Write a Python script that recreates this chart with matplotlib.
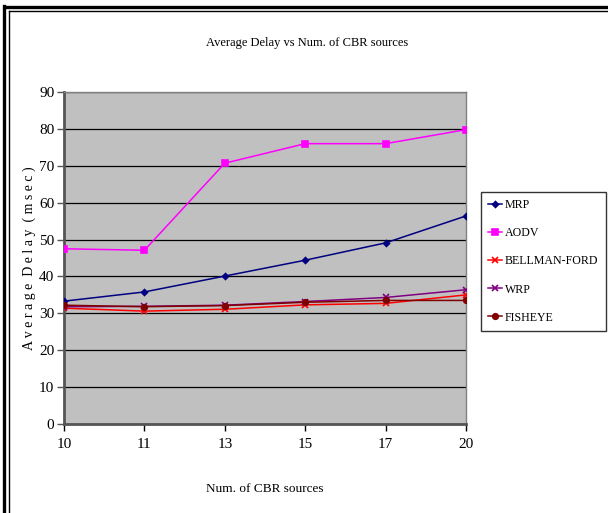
import matplotlib
matplotlib.use("Agg")
import matplotlib.pyplot as plt
from matplotlib.lines import Line2D

categories = ["10", "11", "13", "15", "17", "20"]
mrp = [33.3, 35.8, 40.1, 44.4, 49.1, 56.4]
aodv = [47.5, 47.1, 70.7, 76.0, 76.0, 79.8]
bellman = [31.4, 30.6, 31.1, 32.3, 32.7, 35.0]
wrp = [31.8, 31.9, 32.2, 33.2, 34.3, 36.4]
fisheye = [32.2, 31.8, 32.1, 33.0, 33.5, 33.5]
yticks = [0, 10, 20, 30, 40, 50, 60, 70, 80, 90]

plt.rcParams['font.family'] = ['Liberation Serif', 'DejaVu Serif']

W, H = 608, 513
fig = plt.figure(figsize=(W / 100, H / 100), dpi=100)
fig.patch.set_facecolor("white")

# frame lines (top and left double line)
fig.add_artist(Line2D([5 / W, 1], [1 - 7 / H, 1 - 7 / H], color="black", lw=2.4))
fig.add_artist(Line2D([9 / W, 1], [1 - 11 / H, 1 - 11 / H], color="black", lw=1.0))
fig.add_artist(Line2D([4 / W, 4 / W], [0, 1 - 6 / H], color="black", lw=2.4))
fig.add_artist(Line2D([9 / W, 9 / W], [0, 1 - 11 / H], color="black", lw=1.0))

left, right, top, bottom = 64, 466, 92, 424
ax = fig.add_axes([left / W, 1 - bottom / H, (right - left) / W, (bottom - top) / H])
ax.set_facecolor("#C0C0C0")

x = list(range(len(categories)))
series = [
    ("MRP", mrp, "#000080", "D", 3),
    ("AODV", aodv, "#FF00FF", "s", 4),
    ("BELLMAN-FORD", bellman, "#FF0000", "x", 5),
    ("WRP", wrp, "#800080", "x", 5),
    ("FISHEYE", fisheye, "#800000", "o", 4),
]
for name, vals, col, mk, ms in series:
    ax.plot(x, vals, color=col, marker=mk, markersize=ms, lw=1.1, label=name,
            markeredgewidth=1.2, zorder=3)

ax.set_xlim(0, len(categories) - 1)
ax.set_ylim(0, 90)
ax.set_yticks(yticks)
ax.set_yticklabels([str(v) for v in yticks], fontsize=11)
ax.set_xticks(x)
ax.set_xticklabels(categories, fontsize=11)
ax.yaxis.grid(True, color="black", lw=0.9)
ax.set_axisbelow(True)
ax.tick_params(axis="y", direction="out", length=5, width=1, pad=2, color="#555555")
ax.tick_params(axis="x", direction="out", length=5, width=1, pad=5, color="black")
for s in ["left", "bottom"]:
    ax.spines[s].set_color("#555555")
    ax.spines[s].set_linewidth(2)
for s in ["top", "right"]:
    ax.spines[s].set_color("#808080")
    ax.spines[s].set_linewidth(1)

ax.set_ylabel("A v e r a g e  D e l a y  ( m s e c )", fontsize=10, labelpad=2)
ax.set_xlabel("Num. of CBR sources", fontsize=9.5, labelpad=23)
fig.text(307 / W, 1 - 43 / H, "Average Delay vs Num. of CBR sources",
         ha="center", va="center", fontsize=9)

leg = ax.legend(loc="upper left", bbox_to_anchor=(481 / W, 1 - 192 / H), bbox_transform=fig.transFigure,
                frameon=True, fancybox=False, edgecolor="black", fontsize=8.6,
                handlelength=1.2, handletextpad=0.2, borderpad=0.6, labelspacing=1.35,
                borderaxespad=0)
leg.get_frame().set_linewidth(1.0)

fig.savefig("out.png", dpi=100)
